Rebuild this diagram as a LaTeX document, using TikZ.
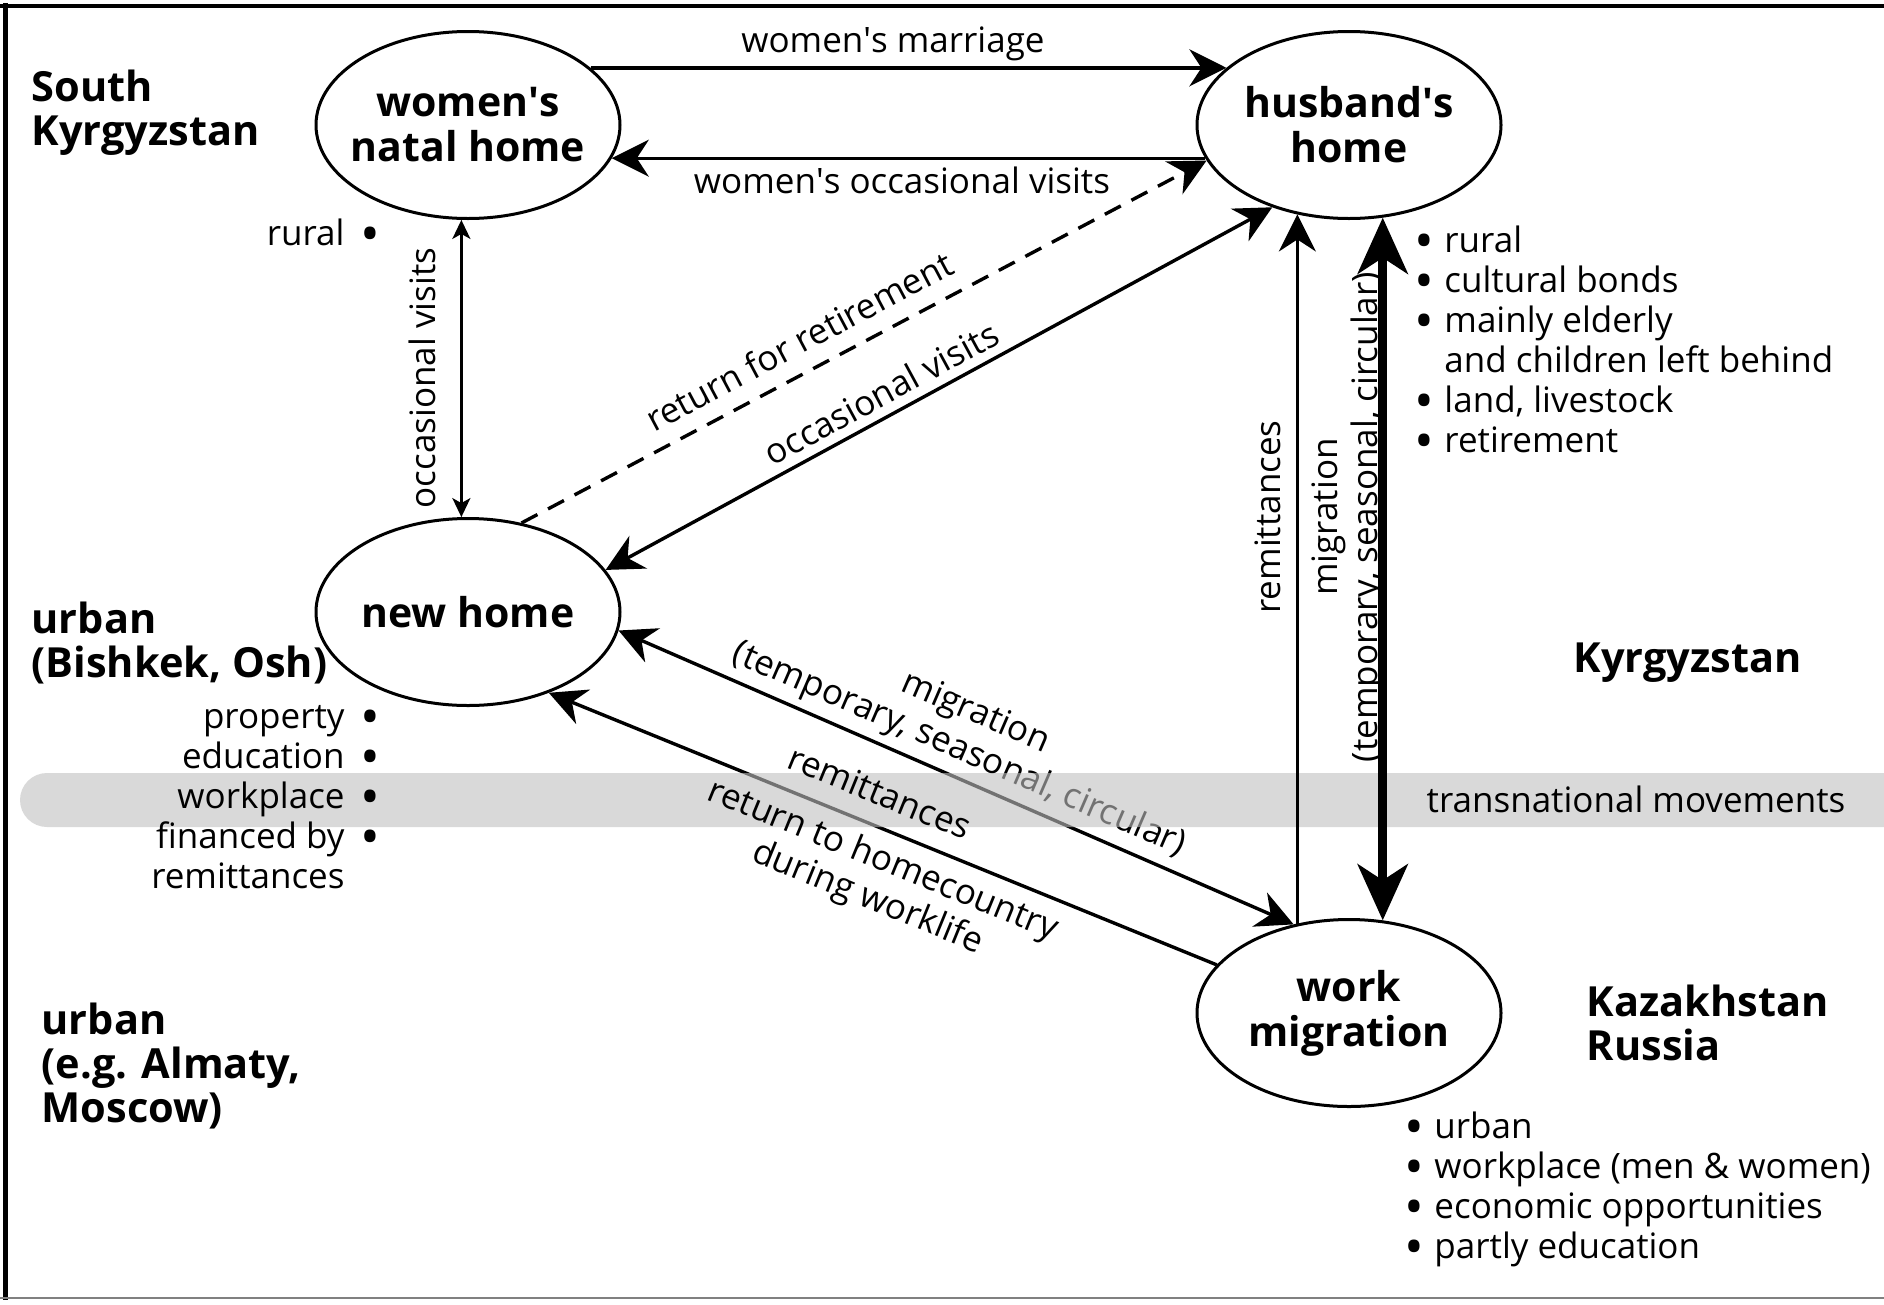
\documentclass[tikz,border=0pt]{standalone}
\usepackage{fontspec}
\setmainfont{Open Sans}
\usetikzlibrary{arrows.meta,shapes.geometric}

\newcommand{\homefont}{\fontsize{41}{45}\selectfont\bfseries}
\newcommand{\areafont}{\fontsize{41.5}{44}\selectfont\bfseries}
\newcommand{\lblfont}{\fontsize{35}{40}\selectfont}
\newcommand{\ap}{\textquotesingle}
\newcommand{\bul}{\raisebox{-7pt}{\scalebox{1.5}{\textbullet}}}
% bullet lists: bullets left, or bullets right
\newcommand{\blist}[1]{\begin{tabular}[t]{@{}l@{\hspace{10pt}}l@{}}#1\end{tabular}}
\newcommand{\rlist}[1]{\begin{tabular}[t]{@{}r@{\hspace{16pt}}l@{}}#1\end{tabular}}

\tikzset{
  home/.style={ellipse,draw,line width=3pt,minimum width=304pt,minimum height=187pt,
    inner xsep=-40pt,inner ysep=0pt,align=center,font=\homefont},
  area/.style={inner sep=0pt,align=left,font=\areafont},
  lbl/.style={inner sep=0pt,font=\lblfont},
  smalltips/.style={>={Stealth[length=19pt,width=18pt,inset=5pt]}},
  bigtips/.style={>={Stealth[length=56pt,width=50pt,inset=16pt]}},
  dashline/.style={dash pattern=on 18pt off 12pt}
}

\begin{document}
\begin{tikzpicture}[x=1pt,y=-1pt,>={Stealth[length=37pt,width=37pt,inset=12pt]},line width=3.4pt]
  \useasboundingbox (0,0) rectangle (1884,1304);
  % frame
  \draw[line width=4pt] (0,5.5) -- (1884,5.5);
  \draw[line width=5pt] (5,3) -- (5,1300);
  \draw[line width=2pt,black!50] (0,1298) -- (1884,1298);

  % the four homes
  \node[home] (natal) at (468,125) {women\ap s\\natal home};
  \node[home] (husband) at (1349,125) {husband\ap s\\home};
  \node[home] (newhome) at (468,612) {new home};
  \node[home] (work) at (1349,1013) {work\\migration};

  % flows that run under the band
  \draw[<->] (newhome.-7) -- (work.122);
  \draw[->] (work.160) -- (newhome.-45);
  \node[lbl,rotate=-23.4,align=center] (migdiag) at (967,732) {migration\\(temporary, seasonal, circular)};

  % transnational band
  \fill[black!25,fill opacity=0.6,rounded corners=27pt] (20,773) rectangle (1930,827);
  \node[lbl,anchor=base west] (trans) at (1425,812) {transnational movements};

  % flows
  \draw[->] (natal.25) -- (husband.155);
  \draw[->] (husband.-167) -- (natal.-13);
  \draw[<->,smalltips,line width=2.6pt] (natal.-94) -- (newhome.94);
  \draw[->,dashline] (newhome.59) -- (husband.-166);
  \draw[<->] (newhome.17) -- (husband.-133);
  \draw[->] (work.120) -- (husband.-120);
  \draw[<->,bigtips,line width=9pt] (husband.-70) -- (work.70);

  % flow labels
  \node[lbl,anchor=base] (marriage) at (893,52) {women\ap s marriage};
  \node[lbl,anchor=base] (wvisits) at (902,193) {women\ap s occasional visits};
  \node[lbl,rotate=90] (nvisits) at (422,378) {occasional visits};
  \node[lbl,rotate=28] (retire) at (799,341) {return for retirement};
  \node[lbl,rotate=28.5] (hvisits) at (881,393) {occasional visits};
  \node[lbl,rotate=90] (remitv) at (1268,517) {remittances};
  \node[lbl,rotate=90,align=center] (migv) at (1349,517) {migration\\(temporary, seasonal, circular)};
  \node[lbl,rotate=-22.2] (remitd) at (880,792) {remittances};
  \node[lbl,rotate=-22.2,align=center] (returnd) at (875,880) {return to homecountry\\during worklife};

  % regions (base = last line)
  \node[area,anchor=base west] (south) at (30,145) {South\\Kyrgyzstan};
  \node[area,anchor=base west] (bishkek) at (30,677) {urban\\(Bishkek, Osh)};
  \node[area,anchor=base west] (almaty) at (40,1122) {urban\\(e.g. Almaty,\\Moscow)};
  \node[area,anchor=base west] (kyrg) at (1572,672) {Kyrgyzstan};
  \node[area,anchor=base west] (kaz) at (1585,1060) {Kazakhstan\\Russia};

  % features
  \node[lbl,anchor=base east] (natalfeat) at (382,245) {\rlist{rural & \bul}};
  \node[lbl,anchor=base east] (newfeat) at (382,728) {\rlist{property & \bul\\ education & \bul\\ workplace & \bul\\ financed by & \bul\\ remittances & }};
  \node[lbl,anchor=base west] (husbfeat) at (1413,252) {\blist{\bul & rural\\ \bul & cultural bonds\\ \bul & mainly elderly\\ & and children left behind\\ \bul & land, livestock\\ \bul & retirement}};
  \node[lbl,anchor=base west] (workfeat) at (1403,1138) {\blist{\bul & urban\\ \bul & workplace (men \& women)\\ \bul & economic opportunities\\ \bul & partly education}};
\end{tikzpicture}
\end{document}
